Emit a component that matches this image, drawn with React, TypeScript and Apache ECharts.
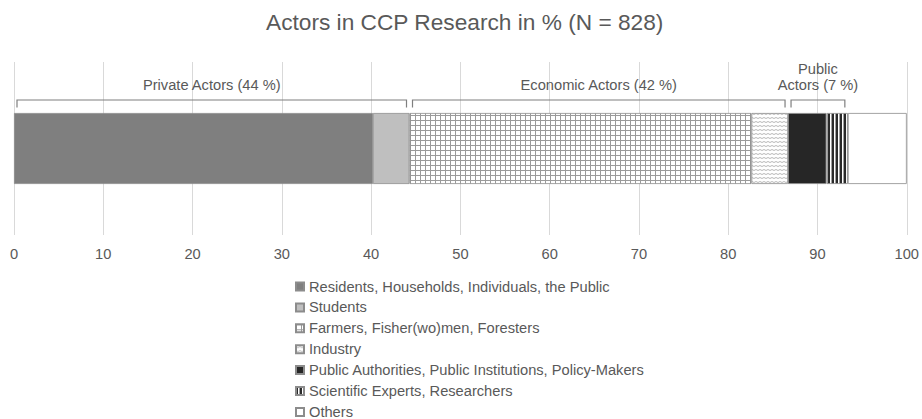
import React, { useEffect, useRef } from "react";
import * as echarts from "echarts";

// Shares of actor types (percent of N = 828 studies)
const seriesNames = [
  "Residents, Households, Individuals, the Public",
  "Students",
  "Farmers, Fisher(wo)men, Foresters",
  "Industry",
  "Public Authorities, Public Institutions, Policy-Makers",
  "Scientific Experts, Researchers",
  "Others",
];
const seriesValues = [40.2, 4.1, 38.3, 4.1, 4.3, 2.4, 6.6];
const categories = ["Actors"];

// Brackets grouping the segments above the bar
const groupLabels = ["Private Actors (44 %)", "Economic Actors (42 %)", "Public\nActors (7 %)"];
const groupMembers = [
  [0, 1],
  [2, 3],
  [4, 5],
];

const xTicks = { min: 0, max: 100, interval: 10 };

const FONT = "'Liberation Sans', Arial, sans-serif";
const TEXT = "#595959";
const FS = 14.67;

function makeCanvas(w: number, h: number, draw: (ctx: CanvasRenderingContext2D) => void) {
  const c = document.createElement("canvas");
  c.width = w;
  c.height = h;
  const ctx = c.getContext("2d")!;
  draw(ctx);
  return c;
}

function buildFills() {
  const grid = makeCanvas(5, 5, (ctx) => {
    ctx.fillStyle = "#ffffff";
    ctx.fillRect(0, 0, 5, 5);
    ctx.fillStyle = "#9a9a9a";
    ctx.fillRect(0, 0, 1, 5);
    ctx.fillRect(0, 0, 5, 1);
  });
  const wave = makeCanvas(4, 4, (ctx) => {
    ctx.fillStyle = "#ffffff";
    ctx.fillRect(0, 0, 4, 4);
    ctx.strokeStyle = "#b8b8b8";
    ctx.lineWidth = 1;
    ctx.beginPath();
    ctx.moveTo(0, 1.5);
    ctx.lineTo(2, 2.5);
    ctx.lineTo(4, 1.5);
    ctx.stroke();
  });
  const stripes = makeCanvas(4, 4, (ctx) => {
    ctx.fillStyle = "#ffffff";
    ctx.fillRect(0, 0, 4, 4);
    ctx.fillStyle = "#2a2a2a";
    ctx.fillRect(0, 0, 2, 4);
    ctx.fillStyle = "#a0a0a0";
    ctx.fillRect(3, 0, 1, 4);
  });
  return [
    "#7f7f7f",
    "#bfbfbf",
    { image: grid, repeat: "repeat" },
    { image: wave, repeat: "repeat" },
    "#262626",
    { image: stripes, repeat: "repeat" },
    "#ffffff",
  ];
}

export default function App() {
  const ref = useRef<HTMLDivElement>(null);

  useEffect(() => {
    if (!ref.current) return;
    const chart = echarts.init(ref.current, null, { renderer: "svg" });
    const fills = buildFills();

    // Group extents derived from the cumulative segment values
    const cum: number[] = [0];
    seriesValues.forEach((v, i) => cum.push(cum[i] + v));
    const groupData = groupMembers.map((m, i) => [cum[m[0]], cum[m[m.length - 1] + 1], 0, i]);

    const barSeries = seriesNames.map((name, i) => ({
      name,
      type: "bar",
      stack: "total",
      barWidth: 71,
      data: [seriesValues[i]],
      itemStyle: {
        color: fills[i] as any,
        borderColor: "#8c8c8c",
        borderWidth: 0.8,
      },
      emphasis: { disabled: true },
    }));

    chart.setOption({
      animation: false,
      title: {
        text: "Actors in CCP Research in % (N = 828)",
        left: 261,
        top: 5,
        textStyle: { fontFamily: FONT, fontSize: 22.7, fontWeight: "normal", color: TEXT },
      },
      legend: {
        orient: "vertical",
        left: 295,
        top: 279,
        height: 200,
        padding: 0,
        itemWidth: 8,
        itemHeight: 8,
        itemGap: 5.9,
        icon: "rect",
        data: seriesNames,
        selectedMode: false,
        textStyle: { fontFamily: FONT, fontSize: FS, color: TEXT },
      },
      grid: { left: 14, right: 15, top: 62, bottom: 184 },
      xAxis: {
        type: "value",
        min: xTicks.min,
        max: xTicks.max,
        interval: xTicks.interval,
        axisLine: { show: false },
        axisTick: { show: false },
        splitLine: { lineStyle: { color: "#d9d9d9", width: 1 } },
        axisLabel: { fontFamily: FONT, fontSize: FS, color: TEXT, margin: 11 },
      },
      yAxis: {
        type: "category",
        data: categories,
        show: false,
      },
      series: [
        ...barSeries,
        {
          type: "custom",
          name: "groups",
          clip: false,
          silent: true,
          z: 10,
          data: groupData,
          encode: { x: [0, 1], y: 2 },
          renderItem: (params: any, api: any) => {
            const s = api.coord([api.value(0), 0]);
            const e = api.coord([api.value(1), 0]);
            const x0 = s[0] + 3;
            const x1 = e[0] - 3;
            const cy = s[1];
            const top = cy - 48.5;
            const tickEnd = cy - 41;
            return {
              type: "group",
              children: [
                {
                  type: "polyline",
                  shape: {
                    points: [
                      [x0, tickEnd],
                      [x0, top],
                      [x1, top],
                      [x1, tickEnd],
                    ],
                  },
                  style: { stroke: "#7f7f7f", lineWidth: 1.2, fill: null },
                },
                {
                  type: "text",
                  x: (x0 + x1) / 2,
                  y: top - 7,
                  style: {
                    text: groupLabels[api.value(3)],
                    align: "center",
                    verticalAlign: "bottom",
                    fontFamily: FONT,
                    fontSize: FS,
                    lineHeight: 16,
                    fill: TEXT,
                  },
                },
              ],
            };
          },
        },
      ],
    } as any);

    return () => chart.dispose();
  }, []);

  return (
    <div
      ref={ref}
      style={{ position: "fixed", left: 0, top: 0, width: 922, height: 419, background: "#ffffff" }}
    />
  );
}
